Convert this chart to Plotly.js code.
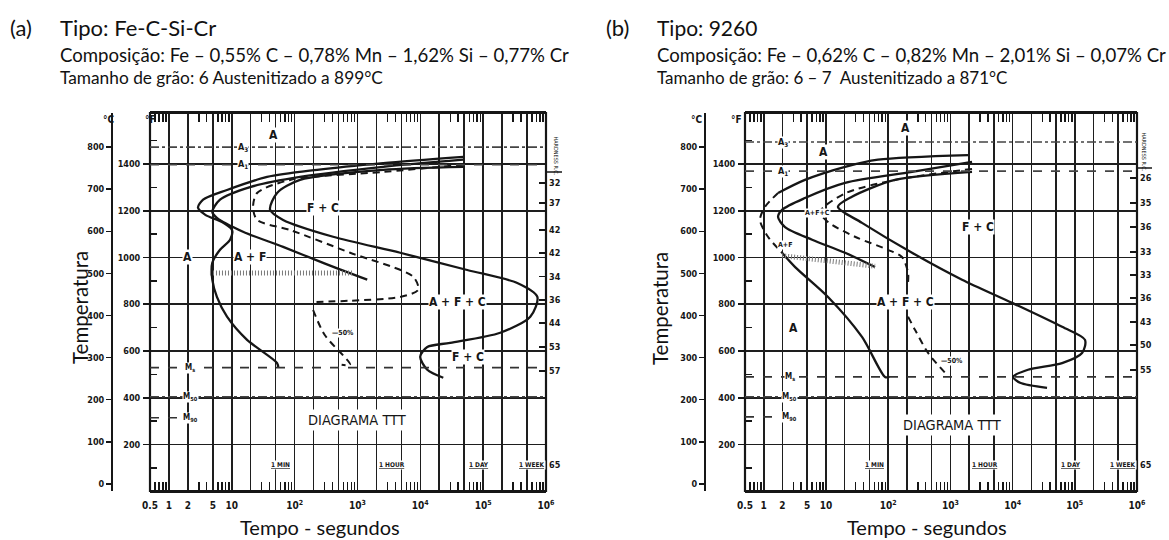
<!DOCTYPE html>
<html><head><meta charset="utf-8">
<script src="https://cdn.plot.ly/plotly-3.0.1.min.js"></script>
<style>html,body{margin:0;padding:0;background:#fff}#chart{width:1169px;height:540px}</style>
</head><body><div id="chart"></div>
<script>
// ---- shared scales ----
const timeTicks = [0.5,1,2,5,10,20,50,100,200,500,1e3,2e3,5e3,1e4,2e4,5e4,1e5,2e5,5e5,1e6];
const timeTickText = ['0.5','1','2','5','10','','','10<sup>2</sup>','','','10<sup>3</sup>','','','10<sup>4</sup>','','','10<sup>5</sup>','','','10<sup>6</sup>'];
const celsiusTicks = [0,100,200,300,400,500,600,700,800];
const fahrenheitTicks = [200,400,600,800,1000,1200,1400];
const fahrenheitMinor = [100,300,500,700,900,1100,1300,1500];
const timeMarks = [60,3600,86400,604800];
const timeMarkText = ['1 MIN','1 HOUR','1 DAY','1 WEEK'];

// ---- (a) Fe-C-Si-Cr ----
const aCritical = {A3:800, A1:758, Ms:276, M50:207, M90:157};
const aStartTime = [48200,2560,228,36.5,8.4,3.5,2.9,3.8,7.0,10.1,9.4,6.5,4.9,4.9,5.8,8.4,17.5,52.6,55];
const aStartTemp = [777,762,746,729,698,675,656,639,622,603,580,556,525,485,444,397,342,287,276];
const aSecondTime = [48200,2560,122,19.6,6.5,4.9,5.8,15.1,65.6,284,1430];
const aSecondTemp = [770,753,729,705,675,646,632,599,563,525,485];
const aHalfTime = [48200,2560,84.7,25.3,21.8,25.3,84.7,765,7710,9270,4790,765,197,null,197,300,765,560];
const aHalfTemp = [758,741,722,691,658,627,603,549,492,461,444,435,432,null,413,354,283,283];
const aFinishTime = [48200,2560,122,52.6,40.7,65.6,410,4790,55800,349000,728000,562000,187000,29900,12900,9960,12900,23200];
const aFinishTemp = [753,746,722,691,651,627,587,549,508,477,444,397,359,335,325,302,271,252];
const aHatchTime = [4.5,853];
const aHatchTemp = [501,501];
const aHardTemp = [715,667,603,549,492,437,382,325,268,45];
const aHardness = ['32','37','42','42','34','36','44','53','57','65'];

// ---- (b) 9260 ----
const bCritical = {A3:812, A1:743, Ms:254, M50:207, M90:159};
const bStartUpperTime = [1920,68.7,20.3,4.6,1.70];
const bStartUpperTemp = [781,770,753,722,691];
const bStartNoseTime = [1.70,1.05,0.87,1.17,1.97];
const bStartNoseTemp = [691,658,627,587,549];
const bStartLowerTime = [1.97,3.2,10.8,38,89,105];
const bStartLowerTemp = [549,515,444,349,254,254];
const bSecondTime = [2230,242,20.3,4.6,1.97,1.70,2.2,6.0,20.3,61.5];
const bSecondTemp = [765,741,715,679,651,634,610,580,549,515];
const bHalfTime = [2230,129,20.3,8.0,10.8,29.3,99.6,167,209,209,null,209,270,438,821];
const bHalfTemp = [748,722,690,646,622,587,556,539,501,480,null,397,366,311,264];
const bFinishTime = [2230,129,26.2,15.6,38,242,1540,9820,62500,146000,131000,62500,17700,10200,13200,35800];
const bFinishTemp = [741,722,682,658,620,549,485,430,373,342,311,287,271,254,240,228];
const bHatchTime = [1.97,61.5];
const bHatchTemp = [542,517];
const bHardTemp = [727,667,610,551,496,442,385,330,271,45];
const bHardness = ['26','35','36','33','33','36','43','50','55','65'];

const W = 1169, H = 540;
const px = x => x / W;
const py = y => 1 - y / H;
const toF = c => c * 1.8 + 32;
const C_RANGE = [-17, 881];
const ink = '#161616';
const axisFont = {family: 'DejaVu Sans Condensed, Liberation Sans Narrow, Arial, sans-serif', size: 9, color: ink, weight: 'bold'};
const labelFont = {family: 'DejaVu Sans Condensed, Liberation Sans, Arial, sans-serif', size: 12, color: ink, weight: 'bold'};
const textFont = {family: 'Lato, Open Sans, sans-serif', color: '#111'};

// small log ticks at 3,4,6,7,8,9 of every decade
const minorTimeTicks = [];
for (let e = -1; e < 6; e++) for (const d of [3,4,6,7,8,9]) {
  const v = d * Math.pow(10, e);
  if (v > 0.5 && v < 1e6) minorTimeTicks.push(v);
}

const traces = [];
const shapes = [];
const annotations = [];

function line(x, y, xa, ya, opts) {
  traces.push(Object.assign({
    type: 'scatter', mode: 'lines', x: x, y: y, xaxis: xa, yaxis: ya,
    line: {color: ink, width: 2.3, shape: 'spline', smoothing: 0.8},
    hoverinfo: 'skip', showlegend: false, connectgaps: false
  }, opts || {}));
}

function panel(p) {
  const xa = p.xa, ya = p.ya;
  const xr = xa === 'x' ? 'x' : 'x2';
  const yr = ya === 'y' ? 'y' : 'y2';
  // curves
  p.curves.forEach(c => line(c.t, c.T, xa, ya, c.dash ? {line: {color: ink, width: 2, dash: '7px,5px', shape: 'spline', smoothing: 0.8}} : {}));
  // hatched band
  line(p.hatchT, p.hatchC, xa, ya, {line: {color: '#7a7a7a', width: 5, dash: '1px,2px'}});
  // border
  shapes.push({type: 'rect', xref: xr + ' domain', yref: yr + ' domain', x0: 0, x1: 1, y0: 0, y1: 1, line: {color: ink, width: 2.2}, layer: 'above'});
  // critical temperatures
  const cr = p.crit;
  shapes.push({type: 'line', xref: xr + ' domain', yref: yr, x0: 0, x1: 1, y0: cr.A3, y1: cr.A3, line: {color: '#444', width: 1.6, dash: 'dashdot'}});
  shapes.push({type: 'line', xref: xr + ' domain', yref: yr, x0: 0, x1: 1, y0: cr.A1, y1: cr.A1, line: {color: '#444', width: 1.6, dash: 'dash'}});
  shapes.push({type: 'line', xref: xr + ' domain', yref: yr, x0: 0, x1: 1, y0: cr.Ms, y1: cr.Ms, line: {color: '#333', width: 1.8, dash: 'dash'}});
  shapes.push({type: 'line', xref: xr + ' domain', yref: yr, x0: 0, x1: 1, y0: cr.M50, y1: cr.M50, line: {color: '#444', width: 1.6, dash: 'dashdot'}});
  shapes.push({type: 'line', xref: xr + ' domain', yref: yr, x0: 0, x1: 0.09, y0: cr.M90, y1: cr.M90, line: {color: '#333', width: 1.6, dash: 'dash'}});
  // region labels: [text, time, temperature, size]
  p.labels.forEach(l => annotations.push({
    xref: xr, yref: yr, x: Math.log10(l[1]), y: l[2], text: l[0], showarrow: false,
    font: Object.assign({}, labelFont, {size: l[3] || 12}), bgcolor: '#fff', borderpad: 0
  }));
  const crLabels = [['M<sub>s</sub>', cr.Ms], ['M<sub>50</sub>', cr.M50], ['M<sub>90</sub>', cr.M90]];
  crLabels.forEach(m => annotations.push({
    xref: xr, yref: yr, x: Math.log10(p.mLabelT), y: m[1], text: m[0], showarrow: false,
    font: Object.assign({}, labelFont, {size: 8}), bgcolor: '#fff', borderpad: 0
  }));
  annotations.push({xref: xr, yref: yr, x: Math.log10(p.a3LabelT), y: cr.A3, text: 'A<sub>3</sub>', showarrow: false, font: Object.assign({}, labelFont, {size: 9}), bgcolor: '#fff', borderpad: 0});
  annotations.push({xref: xr, yref: yr, x: Math.log10(p.a3LabelT), y: cr.A1, text: 'A<sub>1</sub>', showarrow: false, font: Object.assign({}, labelFont, {size: 9}), bgcolor: '#fff', borderpad: 0});
  // time landmarks
  timeMarks.forEach((t, i) => annotations.push({
    xref: xr, yref: yr, x: Math.log10(t), y: 45, text: '<u>' + timeMarkText[i] + '</u>', showarrow: false,
    font: Object.assign({}, axisFont, {size: 6.5}), bgcolor: '#fff', borderpad: 0
  }));
  annotations.push({xref: xr, yref: yr, x: Math.log10(p.ttt[0]), y: p.ttt[1], text: 'DIAGRAMA TTT', showarrow: false,
    font: Object.assign({}, labelFont, {size: 14.5, weight: 'normal'}), bgcolor: '#fff', borderpad: 2});
}

panel({
  xa: 'x', ya: 'y', crit: aCritical, hatchT: aHatchTime, hatchC: aHatchTemp,
  curves: [
    {t: aStartTime, T: aStartTemp}, {t: aSecondTime, T: aSecondTemp},
    {t: aHalfTime, T: aHalfTemp, dash: true}, {t: aFinishTime, T: aFinishTemp}
  ],
  labels: [['A', 45.5, 829], ['F + C', 284, 656], ['A', 2.0, 539], ['A + F', 19.6, 539],
           ['A + F + C', 38700, 432], ['F + C', 58000, 302], ['—50%', 592, 359, 7]],
  mLabelT: 2.2, a3LabelT: 15.1, ttt: [990, 152]
});
panel({
  xa: 'x2', ya: 'y2', crit: bCritical, hatchT: bHatchTime, hatchC: bHatchTemp,
  curves: [
    {t: bStartUpperTime, T: bStartUpperTemp}, {t: bStartNoseTime, T: bStartNoseTemp, dash: true},
    {t: bStartLowerTime, T: bStartLowerTemp}, {t: bSecondTime, T: bSecondTemp},
    {t: bHalfTime, T: bHalfTemp, dash: true}, {t: bFinishTime, T: bFinishTemp}
  ],
  labels: [['A', 187, 846], ['A', 9.3, 789], ['A+F', 2.2, 568, 7], ['A+F+C', 7.2, 644, 7],
           ['F + C', 2790, 610], ['A + F + C', 187, 432], ['A', 2.96, 371], ['—50%', 1060, 292, 7]],
  mLabelT: 2.6, a3LabelT: 2.04, ttt: [1100, 140]
});

// headers and axis titles
const head = (x, y, text, size, xanchor) => annotations.push({
  xref: 'paper', yref: 'paper', x: px(x), y: py(y), text: text, showarrow: false,
  xanchor: xanchor || 'left', yanchor: 'middle', font: Object.assign({}, textFont, {size: size})
});
head(8, 28, '(a)', 22); head(58, 28, 'Tipo: Fe-C-Si-Cr', 22);
head(58, 55, 'Composição: Fe – 0,55% C – 0,78% Mn – 1,62% Si – 0,77% Cr', 18.6);
head(58, 78, 'Tamanho de grão: 6 Austenitizado a 899°C', 17.3);
head(604, 28, '(b)', 22); head(655, 28, 'Tipo: 9260', 21);
head(655, 55, 'Composição: Fe – 0,62% C – 0,82% Mn – 2,01% Si – 0,07% Cr', 18.6);
head(655, 78, 'Tamanho de grão: 6 – 7  Austenitizado a 871°C', 17);
head(320, 527, 'Tempo - segundos', 20, 'center');
head(927, 527, 'Tempo - segundos', 20, 'center');
[[66, 308], [660, 308]].forEach(p => annotations.push({
  xref: 'paper', yref: 'paper', x: px(p[0]), y: py(p[1]), text: 'Temperatura', textangle: -90,
  showarrow: false, font: Object.assign({}, textFont, {size: 20.5})
}));
[[101, 112, '°C'], [143, 112, '°F'], [696, 112, '°C'], [736, 112, '°F']].forEach(a => annotations.push({
  xref: 'paper', yref: 'paper', x: px(a[0]), y: py(a[1]), text: a[2], showarrow: false,
  font: Object.assign({}, axisFont, {size: 10})
}));
// hardness column heading, above its rule
[[555, 134], [1148, 130]].forEach(a => annotations.push({
  xref: 'paper', yref: 'paper', x: px(a[0]), y: py(a[1]), text: 'HARDNESS R.C.', textangle: 90,
  showarrow: false, font: Object.assign({}, axisFont, {size: 5.5, weight: 'normal'})
}));
[[546, 172, 562], [1137, 168, 1152]].forEach(a => shapes.push({
  type: 'line', xref: 'paper', yref: 'paper', x0: px(a[0]), x1: px(a[2]), y0: py(a[1]), y1: py(a[1]), line: {color: ink, width: 1.5}
}));

const yDomain = [py(491), py(113)];
function timeAxis(domain, anchor) {
  return {
    type: 'log', range: [Math.log10(0.5), 6], domain: domain, anchor: anchor,
    tickmode: 'array', tickvals: timeTicks, ticktext: timeTickText, ticks: '',
    showgrid: true, gridcolor: '#1e1e1e', gridwidth: 1.6, zeroline: false,
    showline: true, linecolor: ink, linewidth: 2, mirror: 'allticks',
    tickfont: Object.assign({}, axisFont, {size: 10}), ticklabelstandoff: 4,
    minor: {tickmode: 'array', tickvals: minorTimeTicks, ticks: 'inside', ticklen: 9, tickcolor: ink, tickwidth: 1.4, showgrid: false}
  };
}
function celsiusAxis(pos) {
  return {
    anchor: 'free', position: pos, range: C_RANGE, domain: yDomain, tickmode: 'array', tickvals: celsiusTicks,
    ticks: 'outside', ticklen: 5, tickwidth: 1.5, tickcolor: ink, showgrid: false, zeroline: false,
    showline: true, linecolor: ink, linewidth: 2, tickfont: axisFont
  };
}
function fahrenheitAxis(over, anchor) {
  return {
    overlaying: over, anchor: anchor, side: 'left', range: C_RANGE.map(toF), tickmode: 'array', tickvals: fahrenheitTicks,
    ticks: 'outside', ticklen: 6, tickwidth: 1.8, tickcolor: ink, showgrid: true, gridcolor: '#1e1e1e', gridwidth: 1.6,
    zeroline: false, showline: false, tickfont: axisFont, ticklabelstandoff: 1,
    minor: {tickmode: 'array', tickvals: fahrenheitMinor, ticks: 'inside', ticklen: 7, tickwidth: 1.4, tickcolor: ink, showgrid: false}
  };
}
function hardnessAxis(over, anchor, temps, vals) {
  return {
    overlaying: over, anchor: anchor, side: 'right', range: C_RANGE, tickmode: 'array', tickvals: temps, ticktext: vals,
    ticks: 'inside', ticklen: 7, tickwidth: 1.5, tickcolor: ink, showgrid: false, zeroline: false, showline: false,
    tickfont: axisFont, ticklabelstandoff: 2
  };
}

const layout = {
  width: W, height: H, margin: {l: 0, r: 0, t: 0, b: 0}, paper_bgcolor: '#fff', plot_bgcolor: '#fff',
  showlegend: false,
  xaxis: timeAxis([px(150), px(546)], 'y'),
  xaxis2: timeAxis([px(745), px(1137)], 'y2'),
  yaxis: celsiusAxis(px(112)),
  yaxis2: celsiusAxis(px(705)),
  yaxis3: fahrenheitAxis('y', 'x'),
  yaxis4: fahrenheitAxis('y2', 'x2'),
  yaxis5: hardnessAxis('y', 'x', aHardTemp, aHardness),
  yaxis6: hardnessAxis('y2', 'x2', bHardTemp, bHardness),
  shapes: shapes, annotations: annotations
};
// empty traces so the overlaid scales are drawn
['y3', 'y4', 'y5', 'y6'].forEach((ya, i) => traces.push({
  type: 'scatter', mode: 'lines', x: [], y: [], xaxis: i % 2 ? 'x2' : 'x', yaxis: ya, showlegend: false, hoverinfo: 'skip'
}));
Plotly.newPlot('chart', traces, layout, {staticPlot: true, displayModeBar: false});
</script>
</body></html>
